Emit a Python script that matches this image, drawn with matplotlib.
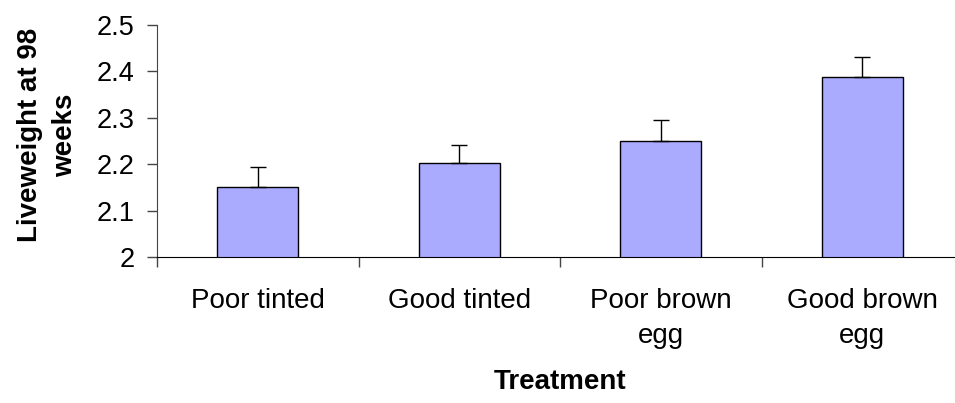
import numpy as np
import matplotlib
matplotlib.use("Agg")
import matplotlib.pyplot as plt

# data
treatments = ["Poor tinted", "Good tinted", "Poor brown\negg", "Good brown\negg"]
liveweight = [2.15, 2.203, 2.251, 2.387]
err_upper = [0.044, 0.038, 0.044, 0.044]
ytick_vals = [2.0, 2.1, 2.2, 2.3, 2.4, 2.5]
ytick_labels = ["2", "2.1", "2.2", "2.3", "2.4", "2.5"]

plt.rcParams['font.family'] = ['Liberation Sans', 'DejaVu Sans']

fig = plt.figure(figsize=(9.55, 4.03), dpi=100)
ax = fig.add_axes([157 / 955, 146 / 403, 806 / 955, 232 / 403])

x = np.arange(len(treatments)) + 0.5
ax.bar(x, liveweight, width=0.4, color="#AAAAFF", edgecolor="black", linewidth=1.0, zorder=2)
ax.errorbar(x, liveweight, yerr=[np.zeros(len(err_upper)), err_upper], fmt="none",
            ecolor="black", elinewidth=1.0, capsize=5.8, capthick=1.0, zorder=3)

ax.set_xlim(0, len(treatments))
ax.set_ylim(2.0, 2.5)

# category boundaries get tick marks, centres get the labels
ax.set_xticks(np.arange(len(treatments) + 1))
ax.set_xticklabels([])
ax.set_xticks(x, minor=True)
ax.set_xticklabels(treatments, minor=True, fontsize=20, linespacing=1.45)
ax.tick_params(axis="x", which="major", length=7, width=1, color="#444444", direction="out")
ax.tick_params(axis="x", which="minor", length=0, pad=22)

ax.set_yticks(ytick_vals)
ax.set_yticklabels(ytick_labels, fontsize=19.5)
ax.tick_params(axis="y", length=7, width=1, color="#444444", pad=9)

for side in ["top", "right"]:
    ax.spines[side].set_visible(False)
ax.spines["left"].set_color("#444444")
ax.spines["bottom"].set_color("black")

ax.set_xlabel("Treatment", fontsize=20, fontweight="bold", labelpad=15)
ax.set_ylabel("Liveweight at 98\nweeks", fontsize=20, fontweight="bold", linespacing=1.45)
ax.yaxis.set_label_coords(-0.098, 0.525)

fig.savefig("out.png", dpi=100)
